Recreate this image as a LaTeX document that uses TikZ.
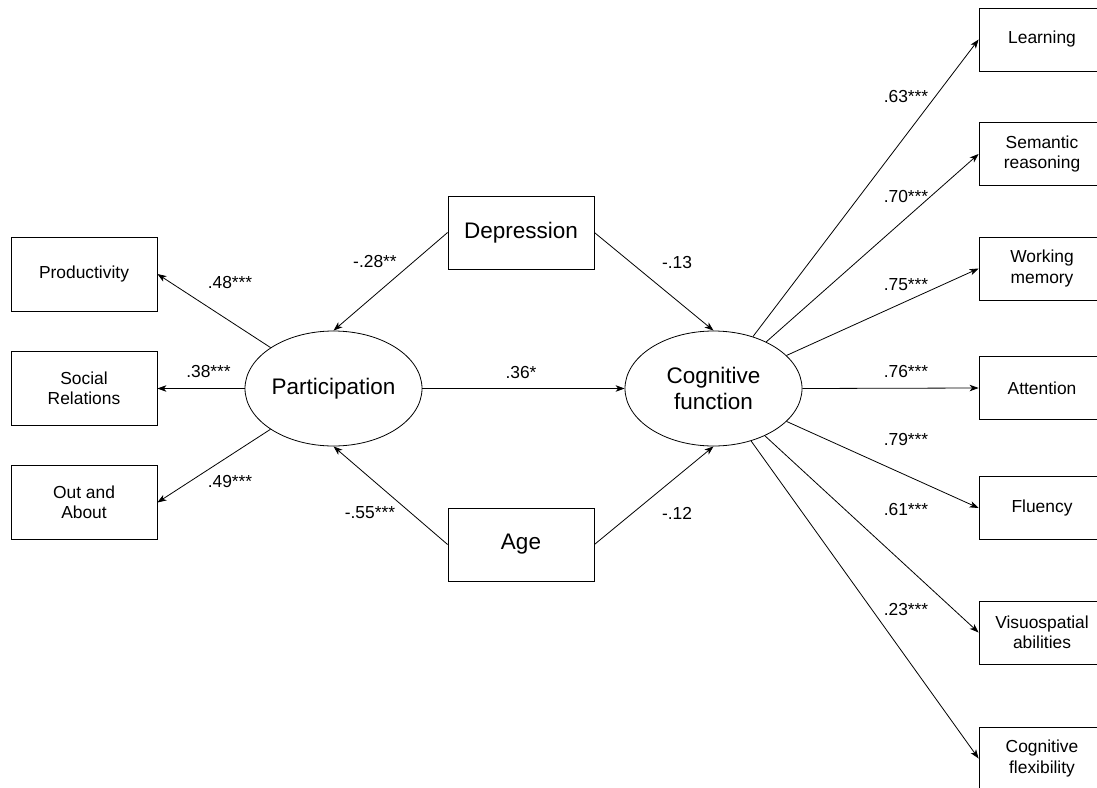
\documentclass[tikz,border=0pt]{standalone}
\usepackage{fontspec}
\setmainfont{Liberation Sans}
\usetikzlibrary{shapes.geometric,arrows.meta}
\begin{document}
\begin{tikzpicture}[x=1pt,y=-1pt,
  box/.style={draw, line width=0.8pt, inner sep=0pt, align=center, font=\fontsize{17.4}{20.5}\selectfont},
  lbox/.style={box, minimum width=146pt, minimum height=74pt},
  rbox/.style={box, minimum width=126pt, minimum height=63pt},
  bigbox/.style={draw, line width=0.8pt, inner sep=0pt, minimum width=146pt, minimum height=73pt, font=\fontsize{22.5}{26}\selectfont},
  latent/.style={ellipse, draw, line width=0.8pt, minimum width=177pt, minimum height=115pt, inner sep=0pt, align=center, font=\fontsize{22.5}{26}\selectfont},
  arr/.style={-{Stealth[length=9pt,width=6.5pt,inset=2.5pt]}, line width=0.8pt},
  coef/.style={font=\fontsize{17.4}{20}\selectfont, inner sep=0pt}]
\useasboundingbox (0,0) rectangle (1097,787);

% latent variables
\node[latent] (part) at (333.5,388.5) {Participation};
\node[latent] (cog) at (713.5,388.5) {Cognitive\\function};

% covariates
\node[bigbox] (dep) at (521,232.5) {Depression};
\node[bigbox] (age) at (521,544.5) {Age};

% left indicators
\node[lbox] (prod) at (84,274) {Productivity};
\node[lbox] (soc) at (84,388.5) {Social\\Relations};
\node[lbox] (out) at (84,502.5) {Out and\\About};

% right indicators
\node[rbox] (learn) at (1042,39.5) {Learning};
\node[rbox] (sem) at (1042,154) {Semantic\\reasoning};
\node[rbox] (work) at (1042,268.5) {Working\\memory};
\node[rbox] (att) at (1042,388) {Attention};
\node[rbox] (flu) at (1042,508) {Fluency};
\node[rbox] (vis) at (1042,632.5) {Visuospatial\\abilities};
\node[rbox] (flex) at (1042,758.5) {Cognitive\\flexibility};

% structural paths
\draw[arr] (dep.west) -- (part.north);
\draw[arr] (age.west) -- (part.south);
\draw[arr] (dep.east) -- (cog.north);
\draw[arr] (age.east) -- (cog.south);
\draw[arr] (part.east) -- (cog.west);

% measurement paths
\draw[arr] (part) -- (prod.east);
\draw[arr] (part.west) -- (soc.east);
\draw[arr] (part) -- (out.east);

\draw[arr] (cog) -- (learn.west);
\draw[arr] (cog) -- (sem.west);
\draw[arr] (cog) -- (work.west);
\draw[arr] (cog.east) -- (att.west);
\draw[arr] (cog) -- (flu.west);
\draw[arr] (cog) -- (vis.west);
\draw[arr] (cog) -- (flex.west);

% coefficients
\node[coef] (c1) at (230,283) {.48***};
\node[coef] (c2) at (208.5,372) {.38***};
\node[coef] (c3) at (230,482) {.49***};
\node[coef] (c4) at (375,262) {-.28**};
\node[coef] (c5) at (370,513) {-.55***};
\node[coef] (c6) at (677,263) {-.13};
\node[coef] (c7) at (521,373) {.36*};
\node[coef] (c8) at (677,513) {-.12};
\node[coef] (r1) at (906,97) {.63***};
\node[coef] (r2) at (906,197) {.70***};
\node[coef] (r3) at (906,285) {.75***};
\node[coef] (r4) at (906,372) {.76***};
\node[coef] (r5) at (906,440) {.79***};
\node[coef] (r6) at (906,510) {.61***};
\node[coef] (r7) at (906,610) {.23***};
\end{tikzpicture}
\end{document}
